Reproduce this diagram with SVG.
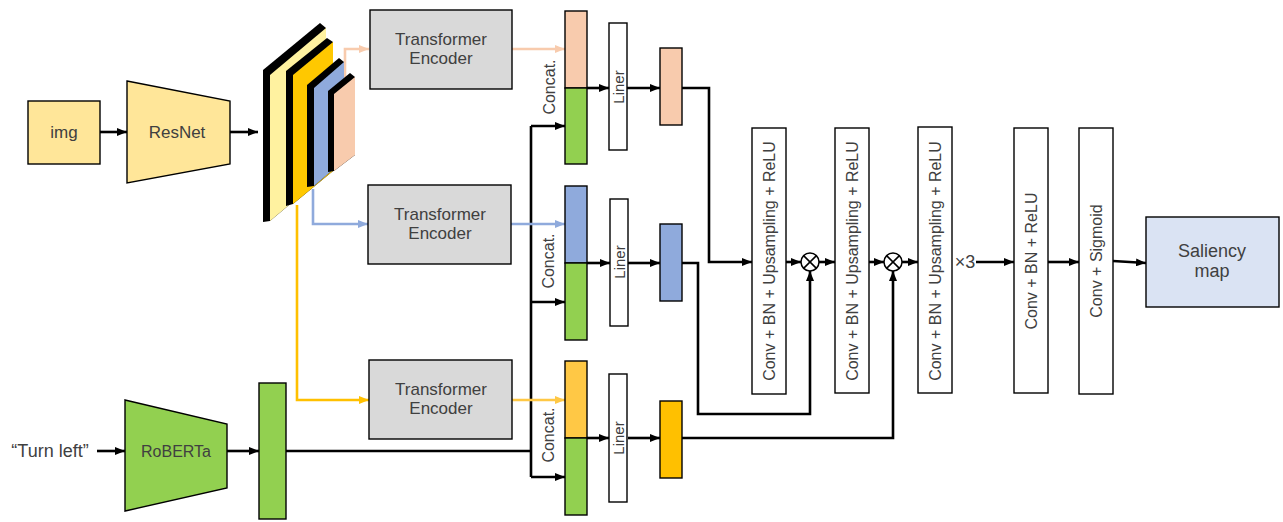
<svg xmlns="http://www.w3.org/2000/svg" width="1283" height="522" viewBox="0 0 1283 522">
<defs>
<style>
.box{stroke:#000;stroke-width:1.4}
.jp{font-family:"Liberation Sans",Arial,sans-serif;fill:#404040;text-anchor:middle}
.ar{font-family:"Liberation Sans",Arial,sans-serif;fill:#404040;text-anchor:middle;dominant-baseline:central}
.c{fill:none;stroke:#000;stroke-width:2.6;stroke-linejoin:miter}
.cp{fill:none;stroke:#F8CBAD;stroke-width:2.6}
.cb{fill:none;stroke:#8FAADC;stroke-width:2.6}
.cg{fill:none;stroke:#FFC000;stroke-width:2.6}
.cg2{fill:none;stroke:#FFC845;stroke-width:2.6}
</style>
<marker id="ak" markerUnits="userSpaceOnUse" markerWidth="10" markerHeight="8" refX="10" refY="4" orient="auto"><path d="M0,0 L10,4 L0,8 z" fill="#000"/></marker>
<marker id="ap" markerUnits="userSpaceOnUse" markerWidth="10" markerHeight="8" refX="10" refY="4" orient="auto"><path d="M0,0 L10,4 L0,8 z" fill="#F8CBAD"/></marker>
<marker id="ab" markerUnits="userSpaceOnUse" markerWidth="10" markerHeight="8" refX="10" refY="4" orient="auto"><path d="M0,0 L10,4 L0,8 z" fill="#8FAADC"/></marker>
<marker id="ag" markerUnits="userSpaceOnUse" markerWidth="10" markerHeight="8" refX="10" refY="4" orient="auto"><path d="M0,0 L10,4 L0,8 z" fill="#FFC000"/></marker>
<marker id="ag2" markerUnits="userSpaceOnUse" markerWidth="10" markerHeight="8" refX="10" refY="4" orient="auto"><path d="M0,0 L10,4 L0,8 z" fill="#FFC845"/></marker>
</defs>
<rect width="1283" height="522" fill="#fff"/>

<g id="connectors">
<path class="c" d="M100,132 H127" marker-end="url(#ak)"/>
<path class="c" d="M230,132 H258" marker-end="url(#ak)"/>
<path class="c" d="M97,451 H125" marker-end="url(#ak)"/>
<path class="c" d="M227,451 H259" marker-end="url(#ak)"/>
<path class="c" d="M286,451 H531"/>
<path class="c" d="M531,126 V477"/>
<path class="c" d="M531,126 H565" marker-end="url(#ak)"/>
<path class="c" d="M531,302 H565" marker-end="url(#ak)"/>
<path class="c" d="M531,477 H565" marker-end="url(#ak)"/>
<path class="cp" d="M345,82 V49 H369" marker-end="url(#ap)"/>
<path class="cp" d="M512,49 H565" marker-end="url(#ap)"/>
<path class="cb" d="M313,189 V224 H368" marker-end="url(#ab)"/>
<path class="cb" d="M511,224 H565" marker-end="url(#ab)"/>
<path class="cg" d="M297,205 V400 H369" marker-end="url(#ag)"/>
<path class="cg2" d="M512,400 H565" marker-end="url(#ag2)"/>
<path class="c" d="M587,88 H609" marker-end="url(#ak)"/>
<path class="c" d="M587,263 H610" marker-end="url(#ak)"/>
<path class="c" d="M587,438 H609" marker-end="url(#ak)"/>
<path class="c" d="M627,88 H660" marker-end="url(#ak)"/>
<path class="c" d="M628,263 H660" marker-end="url(#ak)"/>
<path class="c" d="M628,438 H660" marker-end="url(#ak)"/>
<path class="c" d="M682,88 H709 V262 H752" marker-end="url(#ak)"/>
<path class="c" d="M682,263 H698 V414 H810 V271" marker-end="url(#ak)"/>
<path class="c" d="M682,438 H893 V271" marker-end="url(#ak)"/>
<path class="c" d="M786,262 H801" marker-end="url(#ak)"/>
<path class="c" d="M819,262 H835" marker-end="url(#ak)"/>
<path class="c" d="M869,262 H884" marker-end="url(#ak)"/>
<path class="c" d="M902,262 H918" marker-end="url(#ak)"/>
<path class="c" d="M976,262 H1014" marker-end="url(#ak)"/>
<path class="c" d="M1048,262 H1079" marker-end="url(#ak)"/>
<path class="c" d="M1113,261 L1146,263" marker-end="url(#ak)"/>
</g>

<g id="img">
<rect class="box" x="28" y="101" width="72" height="63" fill="#FFE699"/>
<text class="jp" x="64" y="138" font-size="17">img</text>
</g>
<g id="resnet">
<polygon class="box" points="127,81 230,101 230,164 127,183" fill="#FFE699"/>
<text class="jp" x="177" y="138" font-size="17">ResNet</text>
</g>

<g id="feature-maps">
<polygon points="263,70 320,23 326,28 326,174 270,221 263,222" fill="#000"/>
<polygon points="270,75 326,28 326,174 270,221" fill="#FFF2A0"/>
<polygon points="286,71 327,38 333,42 333,171 293,204 286,206" fill="#000"/>
<polygon points="293,75 333,42 333,171 293,204" fill="#FFC800"/>
<polygon points="307,85 339,58 344,62 344,160 314,186 307,187" fill="#000"/>
<polygon points="314,88 344,62 344,160 314,186" fill="#8FAADC"/>
<polygon points="328,91 350,73 355,77 355,155 334,171 328,172" fill="#000"/>
<polygon points="334,94 355,77 355,155 334,171" fill="#F8CBAD"/>
</g>

<g id="te1">
<rect class="box" x="370" y="10" width="142" height="79" fill="#D9D9D9"/>
<text class="jp" x="441" y="45" font-size="17">Transformer</text>
<text class="jp" x="441" y="64" font-size="17">Encoder</text>
</g>
<g id="te2">
<rect class="box" x="368" y="185" width="143" height="79" fill="#D9D9D9"/>
<text class="jp" x="440" y="220" font-size="17">Transformer</text>
<text class="jp" x="440" y="239" font-size="17">Encoder</text>
</g>
<g id="te3">
<rect class="box" x="369" y="360" width="143" height="79" fill="#D9D9D9"/>
<text class="jp" x="441" y="395" font-size="17">Transformer</text>
<text class="jp" x="441" y="414" font-size="17">Encoder</text>
</g>

<g id="turn-left">
<text class="jp" x="50" y="457" font-size="18">“Turn left”</text>
</g>
<g id="roberta">
<polygon class="box" points="125,400 227,424 227,488 125,511" fill="#92D050"/>
<text class="jp" x="176" y="457" font-size="16">RoBERTa</text>
</g>
<g id="text-feature">
<rect class="box" x="259" y="383" width="27" height="136" fill="#92D050"/>
</g>

<g id="concat1">
<rect class="box" x="565" y="11" width="22" height="77" fill="#F8CBAD"/>
<rect class="box" x="565" y="88" width="22" height="76" fill="#92D050"/>
<text class="ar" x="549" y="87" font-size="16" transform="rotate(-90 549 87)">Concat.</text>
</g>
<g id="concat2">
<rect class="box" x="565" y="186" width="22" height="77" fill="#8FAADC"/>
<rect class="box" x="565" y="263" width="22" height="77" fill="#92D050"/>
<text class="ar" x="548" y="261" font-size="16" transform="rotate(-90 548 261)">Concat.</text>
</g>
<g id="concat3">
<rect class="box" x="565" y="361" width="22" height="77" fill="#FFC845"/>
<rect class="box" x="565" y="438" width="22" height="77" fill="#92D050"/>
<text class="ar" x="548" y="435" font-size="16" transform="rotate(-90 548 435)">Concat.</text>
</g>

<g id="liner1">
<rect class="box" x="609" y="23" width="18" height="127" fill="#fff"/>
<text class="ar" x="618.5" y="87" font-size="15" transform="rotate(-90 618.5 87)">Liner</text>
</g>
<g id="liner2">
<rect class="box" x="610" y="199" width="18" height="127" fill="#fff"/>
<text class="ar" x="619" y="262" font-size="15" transform="rotate(-90 619 262)">Liner</text>
</g>
<g id="liner3">
<rect class="box" x="609" y="374" width="18" height="128" fill="#fff"/>
<text class="ar" x="618.5" y="438" font-size="15" transform="rotate(-90 618.5 438)">Liner</text>
</g>

<g id="feat1"><rect class="box" x="660" y="48" width="22" height="77" fill="#F8CBAD"/></g>
<g id="feat2"><rect class="box" x="660" y="224" width="22" height="77" fill="#8FAADC"/></g>
<g id="feat3"><rect class="box" x="660" y="401" width="22" height="77" fill="#FFC000"/></g>

<g id="dec1">
<rect class="box" x="752" y="128" width="34" height="266" fill="#fff"/>
<text class="ar" x="769" y="261" font-size="16" transform="rotate(-90 769 261)">Conv + BN + Upsampling + ReLU</text>
</g>
<g id="mul1">
<circle cx="810" cy="262" r="9" fill="#fff" stroke="#000" stroke-width="1.5"/>
<path d="M803.6,255.6 L816.4,268.4 M816.4,255.6 L803.6,268.4" stroke="#000" stroke-width="1.5"/>
</g>
<g id="dec2">
<rect class="box" x="835" y="128" width="34" height="265" fill="#fff"/>
<text class="ar" x="852" y="261" font-size="16" transform="rotate(-90 852 261)">Conv + BN + Upsampling + ReLU</text>
</g>
<g id="mul2">
<circle cx="893" cy="262" r="9" fill="#fff" stroke="#000" stroke-width="1.5"/>
<path d="M886.6,255.6 L899.4,268.4 M899.4,255.6 L886.6,268.4" stroke="#000" stroke-width="1.5"/>
</g>
<g id="dec3">
<rect class="box" x="918" y="127" width="34" height="266" fill="#fff"/>
<text class="ar" x="935" y="261" font-size="16" transform="rotate(-90 935 261)">Conv + BN + Upsampling + ReLU</text>
</g>
<g id="times3">
<text class="ar" x="965" y="262" font-size="18">×3</text>
</g>
<g id="dec4">
<rect class="box" x="1014" y="128" width="34" height="265" fill="#fff"/>
<text class="ar" x="1031" y="261" font-size="16" transform="rotate(-90 1031 261)">Conv + BN + ReLU</text>
</g>
<g id="dec5">
<rect class="box" x="1079" y="128" width="34" height="266" fill="#fff"/>
<text class="ar" x="1096" y="261" font-size="16" transform="rotate(-90 1096 261)">Conv + Sigmoid</text>
</g>
<g id="saliency">
<rect class="box" x="1146" y="217" width="133" height="90" fill="#DAE3F3"/>
<text class="jp" x="1212" y="257" font-size="18">Saliency</text>
<text class="jp" x="1212" y="277" font-size="18">map</text>
</g>
</svg>
